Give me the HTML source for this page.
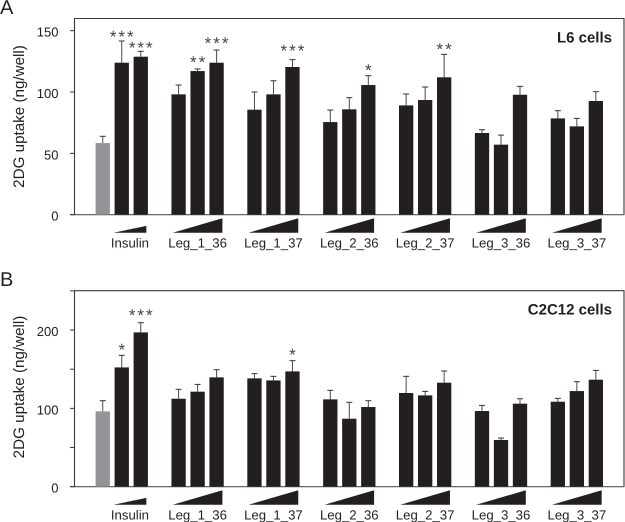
<!DOCTYPE html>
<html lang="en">
<head>
<meta charset="utf-8">
<title>2DG uptake in L6 and C2C12 cells</title>
<style>
html,body{margin:0;padding:0;background:#fff;}
svg{display:block;font-family:"Liberation Sans",Arial,sans-serif;text-rendering:geometricPrecision;}
text{fill:#231f20;}
</style>
</head>
<body>
<svg id="chart" width="625" height="522" viewBox="0 0 625 522" xmlns="http://www.w3.org/2000/svg"></svg>
<script>
const categories = ['Insulin', 'Leg_1_36', 'Leg_1_37', 'Leg_2_36', 'Leg_2_37', 'Leg_3_36', 'Leg_3_37'];

const meansA = [58.4, 123.9, 128.8, 98.1, 117.1, 123.9, 85.6, 98.1, 120.4, 75.5, 85.9, 105.7, 89.1, 93.5, 112, 66.6, 57.1, 97.8, 78.5, 72, 92.7];
const errorsA = [5.5, 17.7, 4.4, 7.6, 1.7, 10.3, 14.4, 11.1, 6, 9.8, 9.5, 7.6, 9.3, 10.6, 18.7, 2.7, 7.8, 6.8, 6.3, 6.5, 7.6];
const sigLabelsA = ['', '***', '***', '', '**', '***', '', '', '***', '', '', '*', '', '', '**', '', '', '', '', '', ''];
const sigLevelsA = [0, 146.2, 137.2, 0, 125.3, 141, 0, 0, 135, 0, 0, 118.8, 0, 0, 136.1, 0, 0, 0, 0, 0, 0];
const majorTicksA = [0, 50, 100, 150];
const minorTicksA = [];

const meansB = [96.2, 152.3, 197, 112.3, 121.3, 139.6, 138.3, 135.7, 147.2, 111.5, 86.8, 101.7, 119.6, 116.6, 132.8, 96.6, 59.6, 106, 108.5, 122.1, 136.6];
const errorsB = [13.6, 15.4, 12.4, 12, 9.3, 9.8, 6, 5.2, 13.7, 11.5, 20.9, 8.1, 21.3, 5.1, 14.9, 7.2, 2.5, 6.3, 4.3, 11.9, 11.9];
const sigLabelsB = ['', '*', '***', '', '', '', '', '', '*', '', '', '', '', '', '', '', '', '', '', '', ''];
const sigLevelsB = [0, 177, 220.9, 0, 0, 0, 0, 0, 170.2, 0, 0, 0, 0, 0, 0, 0, 0, 0, 0, 0, 0];
const majorTicksB = [0, 100, 200];
const minorTicksB = [50, 150, 250];

const svg = document.getElementById('chart');
const NS = 'http://www.w3.org/2000/svg';

function make(parent, tag, attrs, content) {
  const el = document.createElementNS(NS, tag);
  for (const k in attrs) el.setAttribute(k, attrs[k]);
  if (content !== undefined) el.textContent = content;
  parent.appendChild(el);
  return el;
}

function xBar(index) {
  const group = Math.floor(index / 3);
  const bar = index % 3;
  return 95.6 + group * 75.85 + bar * 19;
}

const BAR_W = 14.3;
const AXIS = '#3a3a3a';

function drawPanel(opts) {
  const g = make(svg, 'g', {});
  
  
  const y = v => opts.base - v * opts.scale;
  const L = 74.5, R = 624;

  const letter = make(g, 'text', {x: 0, y: opts.letterY, 'font-size': 20}, opts.letter);
  
  

  const frame = make(g, 'path', {d: `M${L} ${opts.base}V${opts.top}H${R}V${opts.base}`, fill: 'none', stroke: AXIS, 'stroke-width': 1.1});
  
  

  const xAxis = make(g, 'line', {x1: 70, x2: R + 0.5, y1: opts.base, y2: opts.base, stroke: '#555', 'stroke-width': 1.2});
  
  

  opts.major.forEach(t => {
    const tick = make(g, 'line', {x1: 70, x2: L, y1: y(t), y2: y(t), stroke: AXIS, 'stroke-width': 1});
    
    
    const lab = make(g, 'text', {x: 58.5, y: y(t) + 6, 'text-anchor': 'end', 'font-size': 13}, String(t));
    
    
  });
  opts.minor.forEach(t => {
    const tick = make(g, 'line', {x1: 70, x2: L, y1: y(t), y2: y(t), stroke: AXIS, 'stroke-width': 1});
    
    
  });

  const cy = opts.titleY;
  const title = make(g, 'text', {x: 0, y: 0, transform: `translate(24 ${cy}) rotate(-90)`, 'text-anchor': 'middle', 'font-size': 15.2}, '2DG uptake (ng/well)');
  
  

  const cells = make(g, 'text', {x: 612, y: opts.cellY, 'text-anchor': 'end', 'font-size': 15, 'font-weight': 'bold'}, opts.cellLabel);
  
  

  opts.means.forEach((m, i) => {
    const x = xBar(i);
    const cx = x + BAR_W / 2;
    const top = y(m + opts.errors[i]);
    const col = i === 0 ? '#929497' : '#231f20';

    const stem = make(g, 'line', {x1: cx, x2: cx, y1: y(m), y2: top, stroke: '#4a4a4a', 'stroke-width': 1});
    
    
    const cap = make(g, 'line', {x1: cx - 3, x2: cx + 3, y1: top, y2: top, stroke: '#333', 'stroke-width': 1});
    
    

    const bar = make(g, 'rect', {x: x, y: y(m), width: BAR_W, height: opts.base - y(m), fill: col});
    
    

    if (opts.sigLabels[i]) {
      const star = make(g, 'text', {x: cx + 1, y: y(opts.sigLevels[i]) + 7.2, 'text-anchor': 'middle', 'font-size': 17, 'letter-spacing': 2, style: 'fill:#444'}, opts.sigLabels[i]);
      
      
    }
  });

  categories.forEach((c, k) => {
    const cx = xBar(k * 3 + 1) + BAR_W / 2;
    const isRef = k === 0;
    const mid = isRef ? cx + 8.2 : cx;
    const half = isRef ? 16.4 : 24.8;
    const tipTop = opts.base + (isRef ? 11.2 : 3.6);
    const bottom = opts.base + 18;
    const tri = make(g, 'polygon', {points: `${mid - half},${bottom} ${mid + half},${tipTop} ${mid + half},${bottom}`, fill: '#231f20'});
    
    
    const lab = make(g, 'text', {x: mid, y: opts.base + 32.6, 'text-anchor': 'middle', 'font-size': 13.2}, c);
    
    
  });
}

drawPanel({
  name: 'panel-a-l6-cells', letter: 'A', letterY: 14, cellLabel: 'L6 cells', cellY: 42.7,
  base: 214.7, top: 18.5, scale: 1.2267, titleY: 116.5,
  means: meansA, errors: errorsA, sigLabels: sigLabelsA, sigLevels: sigLevelsA,
  major: majorTicksA, minor: minorTicksA
});
drawPanel({
  name: 'panel-b-c2c12-cells', letter: 'B', letterY: 286, cellLabel: 'C2C12 cells', cellY: 314.7,
  base: 486.7, top: 290.7, scale: 0.7833, titleY: 387,
  means: meansB, errors: errorsB, sigLabels: sigLabelsB, sigLevels: sigLevelsB,
  major: majorTicksB, minor: minorTicksB
});
</script>
</body>
</html>
